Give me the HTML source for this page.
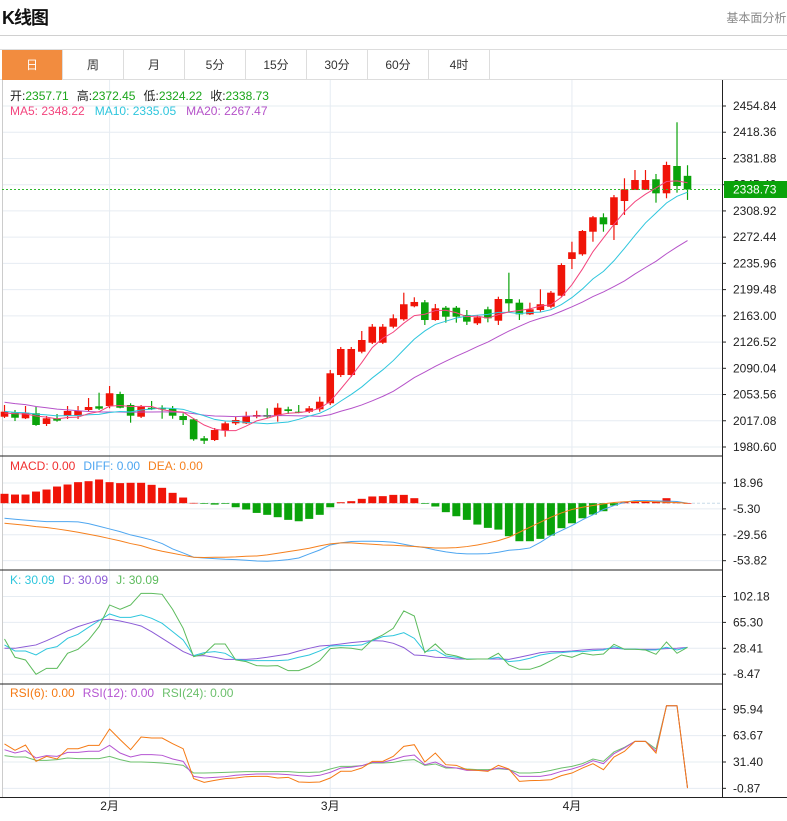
<!DOCTYPE html>
<html><head><meta charset="utf-8">
<style>
body{margin:0;background:#fff;font-family:"Liberation Sans","Noto Sans CJK SC",sans-serif;}
#wrap{position:relative;width:787px;height:821px;overflow:hidden;}
.title{position:absolute;left:2px;top:4px;font-size:18px;font-weight:bold;color:#111;letter-spacing:-1px;}
.more{position:absolute;right:-6px;top:9px;font-size:12px;color:#888;}
.hr{position:absolute;left:0;top:35px;width:787px;height:1px;background:#d0d0d0;}
.tabs{position:absolute;left:0;top:49px;width:787px;height:31px;border-top:1px solid #ddd;border-bottom:1px solid #ddd;box-sizing:border-box;}
.tab{position:absolute;top:0;height:30px;width:61px;border-right:1px solid #ddd;box-sizing:border-box;text-align:center;line-height:30px;font-size:12px;color:#333;}
.tab.on{background:#f28c3f;color:#fff;}
svg{position:absolute;left:0;top:0;}
svg text{font-family:"Liberation Sans","Noto Sans CJK SC",sans-serif;}
</style></head><body>
<div id="wrap">
<div class="title">K线图</div>
<div class="more">基本面分析»</div>
<div class="hr"></div>
<div class="tabs">
<div class="tab on" style="left:2px">日</div>
<div class="tab" style="left:63px">周</div>
<div class="tab" style="left:124px">月</div>
<div class="tab" style="left:185px">5分</div>
<div class="tab" style="left:246px">15分</div>
<div class="tab" style="left:307px">30分</div>
<div class="tab" style="left:368px">60分</div>
<div class="tab" style="left:429px">4时</div>
</div>
<svg id="chart" width="787" height="821"></svg>
</div>
<script>
const opens=[2022.7,2028.3,2020.5,2027.5,2012.6,2020.5,2023.7,2023.7,2032.0,2037.2,2037.6,2054.3,2039.0,2022.7,2035.2,2035.2,2033.9,2023.7,2019.1,1992.7,1990.3,2003.3,2013.5,2013.5,2022.7,2025.1,2023.7,2033.0,2029.7,2029.7,2033.0,2041.4,2080.7,2080.7,2113.1,2125.6,2125.6,2147.9,2158.2,2176.3,2181.8,2157.2,2174.3,2174.3,2164.2,2152.6,2172.1,2156.2,2186.4,2181.3,2165.1,2171.1,2175.7,2191.0,2242.1,2248.6,2280.0,2300.1,2289.3,2322.7,2338.0,2338.0,2352.9,2333.4,2371.4,2357.71];
const highs=[2039.0,2032.0,2037.6,2036.6,2023.7,2026.5,2037.6,2037.6,2048.7,2056.1,2065.4,2057.5,2041.4,2039.0,2044.6,2038.6,2037.6,2027.5,2020.5,1995.9,2007.0,2015.8,2022.7,2029.7,2031.1,2034.4,2041.4,2036.6,2039.0,2037.6,2050.5,2087.7,2119.7,2119.7,2141.9,2151.6,2151.6,2165.1,2195.2,2188.8,2185.0,2179.5,2176.7,2176.7,2171.1,2164.2,2175.7,2189.6,2223.0,2186.0,2181.3,2199.9,2197.6,2236.1,2266.1,2282.4,2301.9,2305.6,2331.1,2354.3,2365.8,2365.8,2360.3,2377.4,2432.2,2372.45];
const lows=[2020.9,2016.7,2019.5,2010.0,2009.8,2015.8,2019.5,2019.5,2029.7,2032.0,2034.4,2034.4,2014.4,2020.9,2032.0,2019.9,2019.9,2011.2,1989.3,1984.8,1988.9,1994.9,2011.2,2012.6,2020.5,2020.5,2015.8,2026.5,2027.5,2027.9,2029.7,2039.0,2077.9,2077.9,2110.9,2123.8,2123.8,2145.7,2156.2,2174.9,2150.3,2156.2,2153.5,2153.5,2150.3,2150.3,2154.0,2150.3,2168.8,2157.2,2164.2,2168.8,2173.5,2189.6,2228.1,2246.6,2266.1,2280.0,2268.5,2303.3,2338.0,2338.0,2320.4,2326.5,2334.3,2324.22];
const closes=[2029.7,2021.3,2028.3,2011.2,2020.5,2017.2,2030.7,2030.7,2036.2,2033.9,2055.3,2035.2,2024.1,2036.6,2033.4,2033.0,2024.1,2018.1,1991.3,1989.3,2004.2,2013.5,2018.1,2023.7,2025.1,2022.7,2035.2,2030.7,2028.3,2034.4,2043.6,2083.1,2116.9,2116.9,2129.4,2147.9,2147.9,2159.6,2179.1,2182.3,2157.2,2173.5,2161.8,2161.8,2154.9,2161.0,2159.6,2186.4,2180.4,2165.1,2172.1,2179.1,2195.2,2233.7,2251.4,2281.0,2300.1,2290.3,2327.9,2339.0,2351.9,2351.9,2333.4,2372.8,2343.6,2338.73];
const priorCloses=[2060,2058,2062,2055,2057,2052,2054,2056,2050,2053,2035,2033,2030,2032,2031,2027,2029,2026,2028];
const priceTicks=[2454.84,2418.36,2381.88,2345.40,2308.92,2272.44,2235.96,2199.48,2163.00,2126.52,2090.04,2053.56,2017.08,1980.60];
const macdHist=[8.8,8.1,8.1,10.9,12.8,15.6,17.5,19.7,20.6,22.2,19.7,18.8,19.1,19.1,17.2,14.4,9.7,5.3,0.3,-0.6,-1.3,-0.6,-3.8,-5.9,-9.1,-10.9,-13.1,-15.6,-16.9,-14.7,-10.9,-3.8,0.9,1.9,4.1,6.3,6.6,7.8,7.8,4.7,-0.6,-3.1,-8.4,-12.2,-15.6,-20.0,-23.1,-24.7,-30.9,-35.6,-35.6,-33.4,-30.3,-23.4,-18.8,-14.1,-10.6,-7.5,-2.2,1.6,1.9,1.9,1.6,4.7,0.9,0];
const diffVals=[-14.1,-15.0,-15.9,-16.6,-17.2,-17.2,-17.2,-17.5,-19.1,-21.6,-24.1,-26.6,-29.7,-31.9,-34.4,-37.8,-42.8,-46.6,-50.6,-51.3,-51.9,-52.5,-52.8,-53.4,-54.1,-54.4,-53.8,-52.8,-51.3,-47.5,-43.8,-39.1,-37.2,-35.9,-35.6,-35.6,-35.9,-36.6,-38.4,-40.3,-41.6,-43.8,-45.6,-46.9,-47.5,-47.5,-47.2,-45.9,-44.1,-43.4,-41.9,-36.6,-30.3,-25.6,-20.9,-15.6,-10.9,-5.9,-2.2,0.9,2.5,2.5,2.2,1.9,1.6,0];
const deaVals=[-18.8,-19.7,-20.6,-21.9,-22.8,-24.1,-25.6,-27.2,-29.1,-30.9,-33.1,-35.3,-37.8,-39.7,-42.8,-45.0,-46.9,-48.8,-50.6,-50.9,-50.6,-50.6,-50.3,-49.7,-49.4,-48.4,-46.9,-45.3,-43.8,-42.2,-40.0,-38.1,-37.2,-37.2,-37.8,-38.4,-39.1,-39.4,-40.0,-40.6,-41.3,-41.9,-41.9,-41.6,-40.6,-39.1,-37.2,-35.0,-31.9,-27.2,-22.5,-17.8,-13.1,-9.1,-5.9,-3.8,-2.2,-0.6,0.6,1.3,1.6,1.6,1.3,0.9,0.6,0];
const macdTicks=[18.96,-5.30,-29.56,-53.82];
const kVals=[33.2,24.6,24.6,18.9,27.5,30.8,42.6,48.3,58.3,67.8,77.3,72.5,72.5,75.9,71.1,64.0,52.1,40.3,18.0,22.2,23.7,21.3,12.7,10.8,10.8,10.8,10.8,11.8,15.6,18.9,24.6,31.7,32.2,32.2,33.2,39.3,45.0,46.4,50.7,42.6,23.7,26.0,17.5,15.6,13.2,13.2,13.2,15.6,9.4,10.8,14.2,18.9,21.3,22.2,23.7,23.7,25.1,26.0,30.8,27.0,27.5,26.0,26.0,29.8,26.0,29.8];
const dVals=[28.4,28.4,30.8,33.2,39.3,46.0,53.1,59.3,64.0,68.7,69.7,67.3,64.0,60.2,52.1,42.6,33.2,23.7,17.5,18.0,15.6,12.7,12.7,12.7,13.7,15.6,18.0,20.3,24.6,28.4,31.7,32.7,34.6,36.5,37.9,39.3,38.8,35.5,29.4,18.9,18.0,15.6,15.1,13.2,13.2,13.2,13.2,13.2,12.7,15.6,18.9,22.2,23.7,23.7,24.6,26.0,27.0,27.5,28.4,27.5,27.0,27.0,27.0,27.9,28.4,29.8];
const jVals=[41.7,15.6,11.8,-8.6,-0.1,-0.1,21.3,27.0,40.3,59.3,90.1,83.9,90.1,106.7,106.7,105.3,83.9,56.9,16.5,20.3,34.6,34.6,11.8,9.4,3.7,3.2,3.7,-3.4,-3.4,2.3,10.8,27.9,29.4,28.4,26.0,40.3,47.4,56.9,81.6,74.4,22.2,34.6,20.3,17.5,12.7,13.2,13.2,21.3,4.7,-1.5,-1.5,3.2,10.8,18.9,15.6,21.3,18.9,20.3,34.1,27.0,27.0,26.0,19.9,37.4,21.3,29.8];
const kdjTicks=[102.18,65.30,28.41,-8.47];
const rsi6=[53.5,45.7,52.2,32.2,38.3,35.1,47.7,47.7,51.8,51.8,71.8,58.8,46.5,62.0,60.8,60.8,53.9,47.7,11.0,6.5,8.9,11.0,11.8,13.4,13.8,13.8,11.8,12.6,6.9,6.5,6.9,11.8,20.0,20.0,24.0,32.2,32.2,38.3,50.6,52.6,31.4,42.4,28.1,27.3,22.0,21.2,20.0,27.3,22.8,7.7,8.5,8.9,9.7,14.7,17.9,24.0,29.4,22.0,37.5,44.5,56.7,56.7,42.4,100.4,100.4,-0.5];
const rsi12=[46.5,42.4,45.3,36.3,39.2,38.3,43.2,43.2,44.5,44.5,51.8,42.4,37.5,40.4,40.4,39.6,35.1,32.2,13.8,11.8,12.6,13.4,15.1,15.9,16.7,16.7,16.7,15.9,14.7,13.8,15.1,18.7,24.0,24.9,26.9,31.0,31.0,34.3,38.3,40.0,28.1,31.4,25.3,24.0,21.2,21.2,20.8,24.0,22.4,13.8,13.8,13.8,15.9,20.0,22.8,26.9,33.0,29.4,41.6,48.6,56.7,56.7,44.5,100.4,100.4,-0.5];
const rsi24=[39.2,37.5,37.5,33.4,33.4,34.3,36.3,35.5,35.5,35.5,38.3,34.3,31.4,31.4,31.0,30.2,29.0,27.3,17.9,17.9,18.3,18.7,19.1,19.6,19.6,19.6,19.6,19.6,18.7,18.7,19.1,22.8,26.1,26.1,26.9,30.2,30.2,31.0,33.4,34.3,27.3,29.0,24.0,24.0,22.8,22.0,22.0,23.2,22.0,17.9,17.9,18.7,21.2,24.0,26.1,29.4,35.1,32.2,43.7,49.4,56.7,56.7,47.3,100.4,100.4,-0.5];
const rsiTicks=[95.94,63.67,31.40,-0.87];
const monthLabels=["2月","3月","4月"];
const monthIndex=[10,31,54];

const NS="http://www.w3.org/2000/svg";
const svg=document.getElementById('chart');
function el(tag,attrs,parent){const e=document.createElementNS(NS,tag);for(const k in attrs)e.setAttribute(k,attrs[k]);(parent||svg).appendChild(e);return e;}
const AX=722;
const xOf=i=>4.5+i*10.508;
const yPrice=p=>106+(2454.84-p)/36.48*26.23;
const yMacd=v=>503.2-v*1.068;
const yKdj=v=>648.3-(v-28.41)*0.7023;
const yRsi=v=>762-(v-31.40)*0.816;

// grids
const grid=el('g',{});


function hgrid(y){el('line',{x1:2,x2:AX,y1:y,y2:y,stroke:'#e6ecf2','stroke-width':1},grid);}
priceTicks.forEach(t=>hgrid(yPrice(t)));
macdTicks.forEach(t=>hgrid(yMacd(t)));
kdjTicks.forEach(t=>hgrid(yKdj(t)));
rsiTicks.forEach(t=>hgrid(yRsi(t)));
monthIndex.forEach(i=>{el('line',{x1:xOf(i),x2:xOf(i),y1:80,y2:797,stroke:'#e6ecf2','stroke-width':1},grid);});
el('line',{x1:2.5,x2:2.5,y1:80,y2:797,stroke:'#ccc','stroke-width':1},grid);

// frame
[456,570,684].forEach(y=>{const l=el('line',{x1:0,x2:AX,y1:y,y2:y,stroke:'#222','stroke-width':1});});
const bl=el('line',{x1:0,x2:787,y1:797.5,y2:797.5,stroke:'#222','stroke-width':1});


const yl=el('line',{x1:AX+0.5,x2:AX+0.5,y1:80,y2:797,stroke:'#222','stroke-width':1});



function tickLabels(ticks,fy,name){
  const g=el('g',{});
  
  
  ticks.forEach(t=>{const y=fy(t);
    el('line',{x1:AX,x2:AX+4,y1:y,y2:y,stroke:'#222'},g);
    const tx=el('text',{x:AX+11,y:y+4,'font-size':'12',fill:'#222'},g);tx.textContent=t.toFixed(2);});
}
tickLabels(priceTicks,yPrice,'price-axis-labels');
tickLabels(macdTicks,yMacd,'macd-axis-labels');
tickLabels(kdjTicks,yKdj,'kdj-axis-labels');
tickLabels(rsiTicks,yRsi,'rsi-axis-labels');

monthLabels.forEach((m,k)=>{const t=el('text',{x:xOf(monthIndex[k]),y:810,'font-size':'12',fill:'#222','text-anchor':'middle'});t.textContent=m;

});

// candles
const RED='#f01408',GREEN='#0aa30a';
const cg=el('g',{});


closes.forEach((c,i)=>{
  const o=opens[i],up=c>=o,col=up?RED:GREEN,x=xOf(i);
  el('line',{x1:x,x2:x,y1:yPrice(highs[i]),y2:yPrice(lows[i]),stroke:col,'stroke-width':1.2},cg);
  const top=yPrice(Math.max(o,c)),bot=yPrice(Math.min(o,c));
  const r=el('rect',{x:x-3.8,y:top,width:7.6,height:Math.max(1,bot-top),fill:col},cg);
  
  
});
// moving averages
const allC=priorCloses.concat(closes);
function ma(n){return closes.map((c,i)=>{let s=0;for(let k=0;k<n;k++)s+=allC[i+priorCloses.length-k];return s/n;});}
function poly(vals,fy,col,name,w){const p=el('polyline',{points:vals.map((v,i)=>xOf(i)+','+fy(v)).join(' '),fill:'none',stroke:col,'stroke-width':w||1});

return p;}
poly(ma(20),yPrice,'#b552c9','ma20-line');
poly(ma(10),yPrice,'#2ec6dd','ma10-line');
poly(ma(5),yPrice,'#f3457e','ma5-line');
// current price line
const cur=closes[closes.length-1];
const cl=el('line',{x1:2,x2:AX,y1:yPrice(cur),y2:yPrice(cur),stroke:'#2fb82f','stroke-width':1,'stroke-dasharray':'2,2'});


const cb=el('rect',{x:AX+2,y:yPrice(cur)-8.5,width:63,height:17,fill:'#0aa30a'});


const ct=el('text',{x:AX+11,y:yPrice(cur)+4,'font-size':'12',fill:'#fff'});ct.textContent=cur.toFixed(2);

// MACD
const mg=el('g',{});


el('line',{x1:2,x2:AX,y1:yMacd(0),y2:yMacd(0),stroke:'#c8dbe8','stroke-dasharray':'3,2'},mg);
macdHist.forEach((v,i)=>{const y0=yMacd(0),y1=yMacd(v);
  const r=el('rect',{x:xOf(i)-4,y:Math.min(y0,y1),width:8,height:Math.max(0.6,Math.abs(y1-y0)),fill:v>=0?RED:GREEN},mg);
  
  });
poly(diffVals,yMacd,'#4ea6f0','diff-line');
poly(deaVals,yMacd,'#f5801e','dea-line');
// KDJ
poly(dVals,yKdj,'#8c5bd6','kdj-d-line');
poly(kVals,yKdj,'#2ec6dd','kdj-k-line');
poly(jVals,yKdj,'#5cbb5c','kdj-j-line');
// RSI
poly(rsi24,yRsi,'#6cc06c','rsi24-line');
poly(rsi12,yRsi,'#b555d2','rsi12-line');
poly(rsi6,yRsi,'#f57a14','rsi6-line');

// legends
function legend(y,parts,name){const t=el('text',{x:10,y:y,'font-size':'12'});


parts.forEach(p=>{const s=el('tspan',{fill:p[1]},t);if(p[2])s.setAttribute('dx',p[2]);s.textContent=p[0];});}
legend(100,[['开:','#222'],['2357.71','#1aa51a'],['高:','#222',8],['2372.45','#1aa51a'],['低:','#222',8],['2324.22','#1aa51a'],['收:','#222',8],['2338.73','#1aa51a']],'ohlc-legend');
legend(115,[['MA5: 2348.22','#f3457e'],['MA10: 2335.05','#2ec6dd',10],['MA20: 2267.47','#b552c9',10]],'ma-legend');
legend(470,[['MACD: 0.00','#f03030'],['DIFF: 0.00','#4ea6f0',8],['DEA: 0.00','#f5801e',8]],'macd-legend');
legend(584,[['K: 30.09','#2ec6dd'],['D: 30.09','#8c5bd6',8],['J: 30.09','#5cbb5c',8]],'kdj-legend');
legend(697,[['RSI(6): 0.00','#f57a14'],['RSI(12): 0.00','#b555d2',8],['RSI(24): 0.00','#6cc06c',8]],'rsi-legend');
</script>
</body></html>
